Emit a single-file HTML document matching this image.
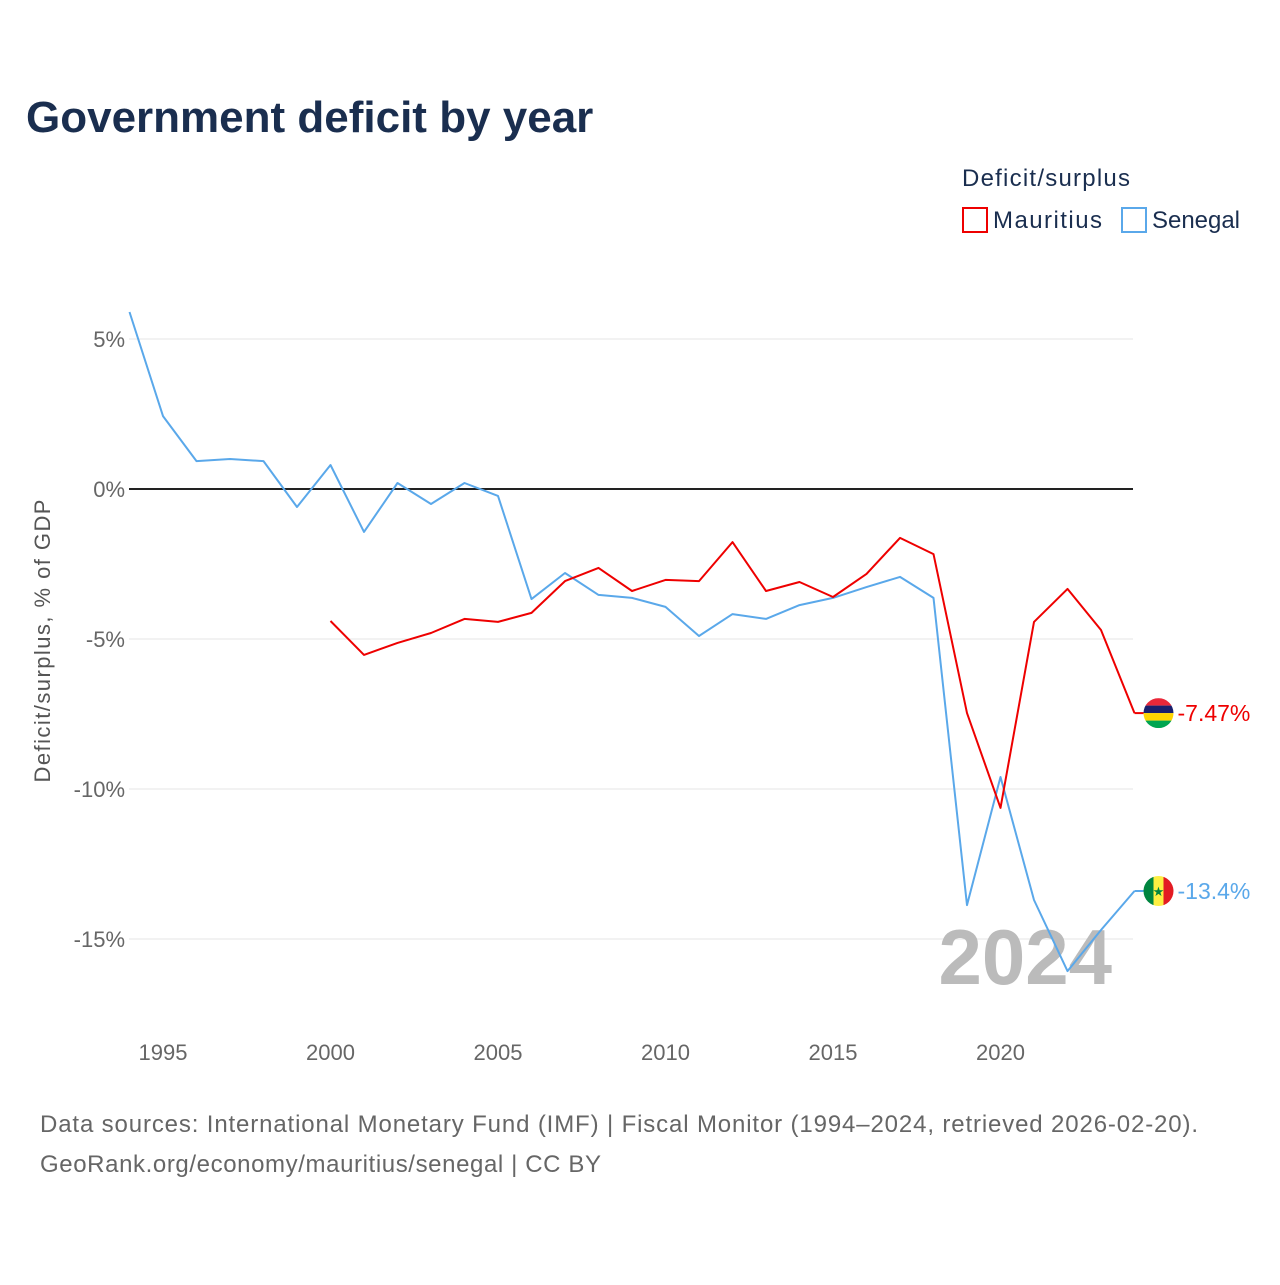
<!DOCTYPE html>
<html><head><meta charset="utf-8">
<style>
body{margin:0;background:#fff;font-family:"Liberation Sans",sans-serif;}
svg text{font-family:"Liberation Sans",sans-serif;}
</style></head>
<body>
<svg id="chart" width="1280" height="1280" viewBox="0 0 1280 1280">
<rect width="1280" height="1280" fill="#fff"/>
<text x="26" y="132" font-size="44" font-weight="bold" fill="#1a2e4f">Government deficit by year</text>
<text x="962" y="186" font-size="24" fill="#1a2e4f" textLength="168">Deficit/surplus</text>
<g><rect x="963" y="208" width="24" height="24" fill="none" stroke="#ee0000" stroke-width="2"/><text x="993" y="228" font-size="24" fill="#1a2e4f" textLength="109">Mauritius</text></g>
<g><rect x="1122" y="208" width="24" height="24" fill="none" stroke="#5aa8ea" stroke-width="2"/><text x="1152" y="228" font-size="24" fill="#1a2e4f" textLength="88">Senegal</text></g>
<text transform="translate(50,641) rotate(-90)" text-anchor="middle" font-size="22" fill="#555" textLength="283">Deficit/surplus, % of GDP</text>
<g id="grid"></g>
<text x="1112" y="984" text-anchor="end" font-size="78" font-weight="bold" fill="#bbb">2024</text>
<g id="marks"></g>
<text x="40" y="1132" font-size="24" fill="#666" textLength="1158">Data sources: International Monetary Fund (IMF) | Fiscal Monitor (1994–2024, retrieved 2026-02-20).</text>
<text x="40" y="1172" font-size="24" fill="#666" textLength="561">GeoRank.org/economy/mauritius/senegal | CC BY</text>
</svg>
<script>
const yTicks=[5,0,-5,-10,-15];
const yTickLabels=["5%","0%","-5%","-10%","-15%"];
const xTicks=[1995,2000,2005,2010,2015,2020];
const senegalYears=[1994,1995,1996,1997,1998,1999,2000,2001,2002,2003,2004,2005,2006,2007,2008,2009,2010,2011,2012,2013,2014,2015,2016,2017,2018,2019,2020,2021,2022,2023,2024];
const senegalValues=[5.9,2.43,0.93,1.0,0.93,-0.6,0.8,-1.43,0.2,-0.5,0.2,-0.23,-3.67,-2.8,-3.53,-3.63,-3.93,-4.9,-4.17,-4.33,-3.87,-3.63,-3.27,-2.93,-3.63,-13.87,-9.6,-13.7,-16.07,-14.7,-13.4];
const mauritiusYears=[2000,2001,2002,2003,2004,2005,2006,2007,2008,2009,2010,2011,2012,2013,2014,2015,2016,2017,2018,2019,2020,2021,2022,2023,2024];
const mauritiusValues=[-4.4,-5.53,-5.13,-4.8,-4.33,-4.43,-4.13,-3.07,-2.63,-3.4,-3.03,-3.07,-1.77,-3.4,-3.1,-3.6,-2.83,-1.63,-2.17,-7.47,-10.63,-4.43,-3.33,-4.7,-7.47];
const X=y=>129.5+(y-1994)*33.5;
const Y=v=>489-v*30;
const NS="http://www.w3.org/2000/svg";
function mk(tag,attrs,parent){const e=document.createElementNS(NS,tag);for(const k in attrs)e.setAttribute(k,attrs[k]);parent.appendChild(e);return e;}
const grid=document.getElementById('grid'),marks=document.getElementById('marks');
yTicks.forEach((t,i)=>{
  const l=mk('line',{x1:129,x2:1133,y1:Y(t),y2:Y(t),stroke:t===0?'#222':'#e6e6e6','stroke-width':t===0?2:1},grid);
  
  
  const tx=mk('text',{x:125,y:Y(t)+8,'text-anchor':'end','font-size':22,fill:'#666'},grid);
  tx.textContent=yTickLabels[i];
  
  
});
xTicks.forEach(t=>{
  const tx=mk('text',{x:X(t),y:1060,'text-anchor':'middle','font-size':22,fill:'#666'},grid);
  tx.textContent=t;
  
  
});
function series(years,vals,color,name,label,flag){
  const p=mk('polyline',{points:years.map((y,i)=>X(y)+','+Y(vals[i])).join(' '),fill:'none',stroke:color,'stroke-width':2,'stroke-linejoin':'round'},marks);
  
  
  const last=vals[vals.length-1],ly=Y(last),lx=X(years[years.length-1]);
  const c=mk('g',{},marks);
  
  
  const cx=lx+24;
  const cp=mk('clipPath',{id:'cp'+name},c);mk('circle',{cx:cx,cy:ly,r:15},cp);
  const g=mk('g',{'clip-path':'url(#cp'+name+')'},c);
  if(flag==='mu'){['#ea2839','#1a206d','#ffd500','#00a551'].forEach((col,i)=>mk('rect',{x:cx-15,y:ly-15+i*7.5,width:30,height:7.5,fill:col},g));}
  else{['#00853f','#fdef42','#e31b23'].forEach((col,i)=>mk('rect',{x:cx-15+i*10,y:ly-15,width:10,height:30,fill:col},g));
    const s=mk('text',{x:cx,y:ly+5,'text-anchor':'middle','font-size':13,fill:'#00853f'},g);s.textContent='★';}
  mk('line',{x1:lx,x2:cx-15,y1:ly,y2:ly,stroke:color,'stroke-width':2},c);
  const t=mk('text',{x:cx+19,y:ly+8,'font-size':23,fill:color},marks);
  t.textContent=label;
  
  
}
series(senegalYears,senegalValues,'#5aa8ea','senegal','-13.4%','sn');
series(mauritiusYears,mauritiusValues,'#ee0000','mauritius','-7.47%','mu');
</script>
</body></html>
